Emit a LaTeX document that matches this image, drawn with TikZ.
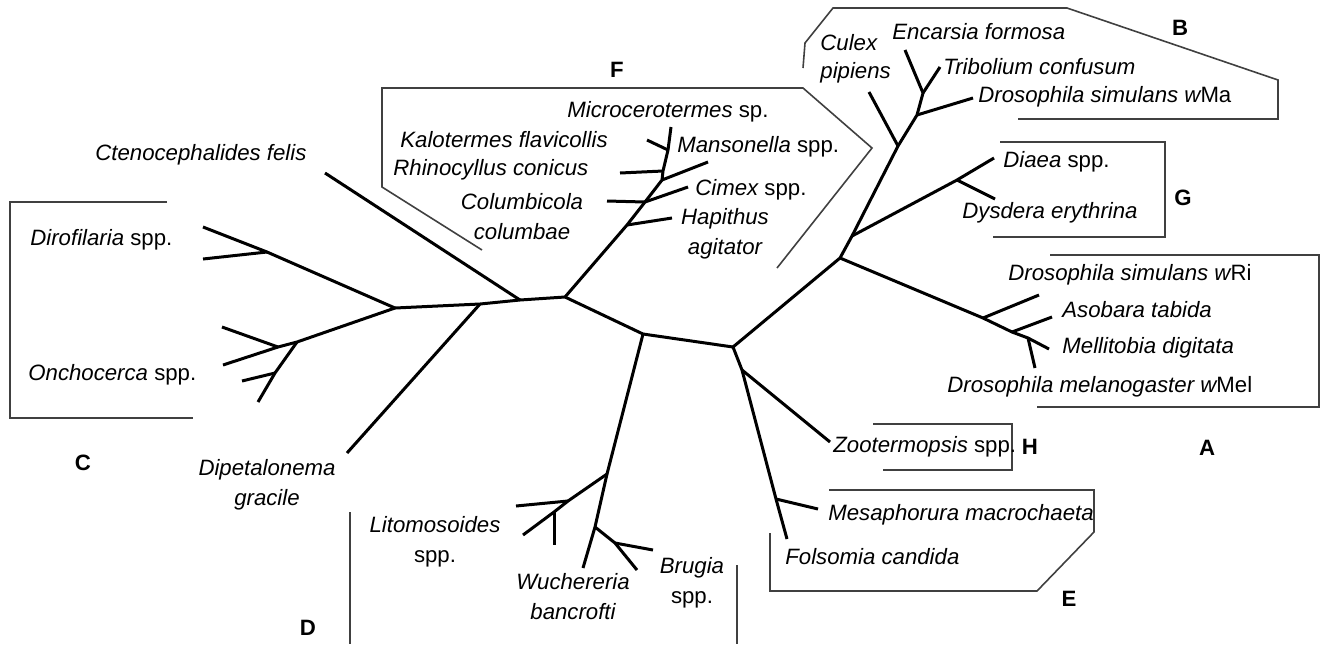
\documentclass[tikz,border=0pt]{standalone}
\usepackage{fontspec}
\setmainfont{Liberation Sans}
\newcommand{\labfont}{\fontsize{11.1}{15}\selectfont}
\tikzset{
  tree/.style={line width=1.5pt, line join=round},
  frame/.style={line width=0.8pt, draw=black!75},
  lab/.style={font=\labfont, inner sep=0pt, anchor=west},
  clab/.style={font=\labfont, inner sep=0pt, align=center},
  grp/.style={font=\labfont\bfseries, inner sep=0pt}
}
\begin{document}
\begin{tikzpicture}[x=0.5pt,y=-0.5pt]
\useasboundingbox (0,0) rectangle (1321,644);
% ---------- internal coordinates ----------
\coordinate (cC) at (395,308);
\coordinate (cDi) at (480,304);
\coordinate (cCt) at (520,300);
\coordinate (cF) at (565,297);
\coordinate (cM) at (643,334);
\coordinate (cR) at (733,347);
\coordinate (cZ) at (742,370);
% left
\coordinate (ct) at (325,173);
\coordinate (dip) at (347,453);
\coordinate (drJ) at (267,252);
\coordinate (dr1) at (203,227);
\coordinate (dr2) at (203,259);
\coordinate (oJ) at (297,342);
\coordinate (oJ1) at (278,347);
\coordinate (o1) at (222,327);
\coordinate (o2) at (223,365);
\coordinate (oJ2) at (275,373);
\coordinate (o3) at (242,381);
\coordinate (o4) at (258,402);
% F
\coordinate (f1) at (627,225);
\coordinate (f2) at (645,202);
\coordinate (f3) at (662,180);
\coordinate (f4) at (663,171);
\coordinate (f5) at (668,150);
\coordinate (fMi) at (671,127);
\coordinate (fHa) at (672,218);
\coordinate (fCo) at (607,201);
\coordinate (fCi) at (688,187);
\coordinate (fMa) at (708,162);
\coordinate (fRh) at (620,173);
\coordinate (fKa) at (647,140);
% D
\coordinate (dJ) at (607,474);
\coordinate (lJ) at (568,501);
\coordinate (lJ2) at (554,512);
\coordinate (l1) at (516,506);
\coordinate (l2) at (523,535);
\coordinate (l3) at (554,545);
\coordinate (wJ) at (595,527);
\coordinate (wu) at (583,568);
\coordinate (bJ2) at (615,543);
\coordinate (br1) at (637,570);
\coordinate (br2) at (653,550);
% E, H
\coordinate (eJ) at (776,499);
\coordinate (fo) at (787,539);
\coordinate (me) at (818,509);
\coordinate (zo) at (830,442);
% A, G, B
\coordinate (aJ) at (840,258);
\coordinate (gJ) at (852,236);
\coordinate (cuJ) at (898,146);
\coordinate (bJ) at (917,115);
\coordinate (eJ3) at (923,93);
\coordinate (cu) at (869,92);
\coordinate (en) at (905,50);
\coordinate (tr) at (940,67);
\coordinate (wma) at (973,98);
\coordinate (gJ2) at (957,180);
\coordinate (dia) at (994,158);
\coordinate (dys) at (995,199);
\coordinate (a1) at (983,318);
\coordinate (a2) at (1012,332);
\coordinate (a3) at (1028,338);
\coordinate (wri) at (1039,295);
\coordinate (aso) at (1052,317);
\coordinate (mel) at (1049,349);
\coordinate (wmel) at (1035,368);
% ---------- tree ----------
\draw[tree] (cC) -- (cDi) -- (cCt) -- (cF) -- (cM) -- (cR) -- (cZ) -- (eJ) -- (fo);
\draw[tree] (ct) -- (cCt);
\draw[tree] (dip) -- (cDi);
\draw[tree] (cC) -- (drJ) -- (dr1);
\draw[tree] (drJ) -- (dr2);
\draw[tree] (cC) -- (oJ) -- (oJ1) -- (o2);
\draw[tree] (oJ1) -- (o1);
\draw[tree] (oJ) -- (oJ2) -- (o4);
\draw[tree] (oJ2) -- (o3);
\draw[tree] (cF) -- (f1) -- (f2) -- (f3) -- (f4) -- (f5) -- (fMi);
\draw[tree] (f1) -- (fHa);
\draw[tree] (f2) -- (fCo);
\draw[tree] (f2) -- (fCi);
\draw[tree] (f3) -- (fMa);
\draw[tree] (f4) -- (fRh);
\draw[tree] (f5) -- (fKa);
\draw[tree] (cM) -- (dJ) -- (lJ) -- (lJ2) -- (l2);
\draw[tree] (lJ) -- (l1);
\draw[tree] (lJ2) -- (l3);
\draw[tree] (dJ) -- (wJ) -- (wu);
\draw[tree] (wJ) -- (bJ2) -- (br1);
\draw[tree] (bJ2) -- (br2);
\draw[tree] (eJ) -- (me);
\draw[tree] (cZ) -- (zo);
\draw[tree] (cR) -- (aJ) -- (gJ) -- (cuJ) -- (bJ) -- (eJ3) -- (en);
\draw[tree] (cuJ) -- (cu);
\draw[tree] (eJ3) -- (tr);
\draw[tree] (bJ) -- (wma);
\draw[tree] (gJ) -- (gJ2) -- (dia);
\draw[tree] (gJ2) -- (dys);
\draw[tree] (aJ) -- (a1) -- (a2) -- (a3) -- (mel);
\draw[tree] (a1) -- (wri);
\draw[tree] (a2) -- (aso);
\draw[tree] (a3) -- (wmel);
% ---------- frames ----------
\draw[frame] (803,68) -- (805,43) -- (833,8) -- (1067,8) -- (1278,80) -- (1278,119) -- (1018,119);
\draw[frame] (482,250) -- (382,187) -- (382,88) -- (803,88) -- (872,148) -- (777,268);
\draw[frame] (167,202) -- (10,202) -- (10,418) -- (193,418);
\draw[frame] (1000,142) -- (1165,142) -- (1165,237) -- (993,237);
\draw[frame] (1050,255) -- (1319,255) -- (1319,407) -- (1037,407);
\draw[frame] (873,424) -- (1012,424) -- (1012,470) -- (883,470);
\draw[frame] (829,490) -- (1094,490) -- (1094,532) -- (1037,591) -- (770,591) -- (770,533);
\draw[frame] (350,512) -- (350,644);
\draw[frame] (737,565) -- (737,644);
% ---------- group letters ----------
\node[grp] (gB) at (1180,28) {B};
\node[grp] (gF) at (617,70) {F};
\node[grp] (gC) at (83,463) {C};
\node[grp] (gG) at (1183,198) {G};
\node[grp] (gA) at (1207,448) {A};
\node[grp] (gH) at (1030,447) {H};
\node[grp] (gE) at (1069,599) {E};
\node[grp] (gD) at (308,628) {D};
% ---------- labels ----------
\node[lab] (tCu) at (820,43) {\itshape Culex};
\node[lab] (tPi) at (820,73) {\itshape pipiens};
\node[lab] (tEn) at (892,32) {\itshape Encarsia formosa};
\node[lab] (tTr) at (943,67) {\itshape Tribolium confusum};
\node[lab] (tMa) at (978,97) {\itshape Drosophila simulans w\upshape Ma};
\node[lab] (tMi) at (567,112) {\itshape Microcerotermes\upshape\ sp.};
\node[lab] (tKa) at (400,140) {\itshape Kalotermes flavicollis};
\node[lab] (tMn) at (677,147) {\itshape Mansonella\upshape\ spp.};
\node[lab] (tRh) at (393,170) {\itshape Rhinocyllus conicus};
\node[lab] (tCi) at (695,190) {\itshape Cimex\upshape\ spp.};
\node[clab] (tCo) at (522,217) {\itshape Columbicola\\\itshape columbae};
\node[clab] (tHa) at (725,234) {\itshape Hapithus\\\itshape agitator};
\node[lab] (tCt) at (95,155) {\itshape Ctenocephalides felis};
\node[lab] (tDr) at (30,240) {\itshape Dirofilaria\upshape\ spp.};
\node[lab] (tOn) at (28,375) {\itshape Onchocerca\upshape\ spp.};
\node[clab] (tDp) at (267,485) {\itshape Dipetalonema\\\itshape gracile};
\node[clab] (tLi) at (435,542) {\itshape Litomosoides\\spp.};
\node[clab] (tWu) at (573,597) {\itshape Wuchereria\\\itshape bancrofti};
\node[clab] (tBr) at (692,583) {\itshape Brugia\\spp.};
\node[lab] (tZo) at (833,447) {\itshape Zootermopsis\upshape\ spp.};
\node[lab] (tMe) at (828,515) {\itshape Mesaphorura macrochaeta};
\node[lab] (tFo) at (785,557) {\itshape Folsomia candida};
\node[lab] (tDi) at (1003,162) {\itshape Diaea\upshape\ spp.};
\node[lab] (tDy) at (962,213) {\itshape Dysdera erythrina};
\node[lab] (tRi) at (1008,275) {\itshape Drosophila simulans w\upshape Ri};
\node[lab] (tAs) at (1062,310) {\itshape Asobara tabida};
\node[lab] (tMl) at (1062,348) {\itshape Mellitobia digitata};
\node[lab] (tMe2) at (947,387) {\itshape Drosophila melanogaster w\upshape Mel};
\end{tikzpicture}
\end{document}
